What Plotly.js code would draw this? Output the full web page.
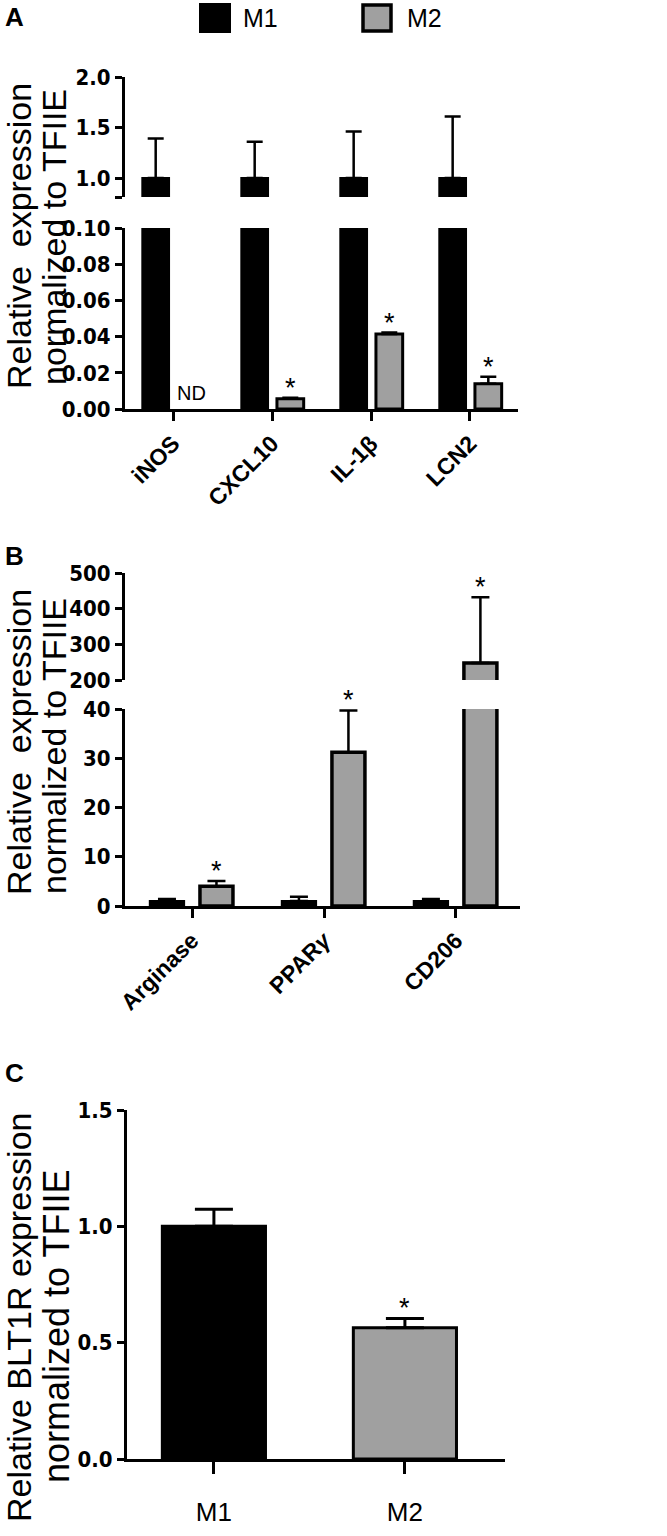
<!DOCTYPE html>
<html>
<head>
<meta charset="utf-8">
<script src="https://cdn.plot.ly/plotly-3.0.1.min.js"></script>
<style>html,body{margin:0;padding:0;background:#fff;}#chart{width:667px;height:1536px;}</style>
</head>
<body>
<div id="chart"></div>
<script>
// ---------- Data ----------
// Panel A: M1 markers
const catsA = ['iNOS', 'CXCL10', 'IL-1β', 'LCN2'];
const m1A = [1.0, 1.0, 1.0, 1.0];
const m1AErr = [0.39, 0.36, 0.46, 0.61];
const m2A = [null, 0.0056, 0.0415, 0.0140];
const m2AErr = [0, 0.0006, 0.0007, 0.0038];
const sigA = [false, true, true, true];
const ndA = [true, false, false, false];

// Panel B: M2 markers
const catsB = ['Arginase', 'PPAR<i>γ</i>', 'CD206'];
const m1B = [1.0, 1.0, 1.0];
const m1BErr = [0.4, 0.9, 0.4];
const m2B = [4.0, 31.2, 248];
const m2BErr = [1.1, 8.5, 184];
const sigB = [true, true, true];

// Panel C: BLT1R
const catsC = ['M1', 'M2'];
const valC = [1.0, 0.564];
const errC = [0.073, 0.040];
const sigC = [false, true];

const seriesNames = ['M1', 'M2'];
const colM1 = '#000000';
const colM2 = '#a0a0a0';

// ---------- Layout helpers ----------
const W = 667, H = 1536;
const px = v => v / W;
const py = v => 1 - v / H;
const tickFont = () => ({family: 'Liberation Sans Narrow, Arial Narrow, DejaVu Sans Condensed, sans-serif', size: 22, color: '#000', weight: 'bold'});
const xTickFont = () => ({family: 'Liberation Sans, Arial, sans-serif', size: 23, color: '#000', weight: 'bold'});

function yAx(domTop, domBot, range, tickvals, ticktext, anchor) {
  return {
    domain: [py(domBot), py(domTop)], range: range, anchor: anchor,
    showline: true, linecolor: '#000', linewidth: 3,
    ticks: 'outside', ticklen: 7, tickwidth: 3, tickcolor: '#000',
    tickvals: tickvals, ticktext: ticktext, tickfont: tickFont(),
    ticklabelstandoff: 0,
    showgrid: false, zeroline: false, fixedrange: true
  };
}
function xAx(domL, domR, range, anchor, angle, font) {
  return {
    domain: [px(domL), px(domR)], range: range, anchor: anchor, type: 'category',
    showline: true, linecolor: '#000', linewidth: 3,
    ticks: 'outside', ticklen: 9, tickwidth: 3, tickcolor: '#000',
    tickangle: angle, tickfont: font, showgrid: false, zeroline: false, fixedrange: true
  };
}

const traces = [];
function addBars(cats, vals, errs, name, color, offset, width, xa, ya, capw, lw) {
  traces.push({
    type: 'bar', x: cats, y: vals, name: name, xaxis: xa, yaxis: ya,
    offset: offset, width: width,
    marker: {color: color, line: {color: '#000', width: lw}},
    error_y: {type: 'data', symmetric: false, array: errs, arrayminus: errs.map(() => 0),
              color: '#000', thickness: 2.5, width: capw},
    showlegend: false, hoverinfo: 'skip'
  });
}

// Panel A (lower + upper break segments)
['y', 'y2'].forEach(ya => {
  addBars(catsA, m1A, m1AErr, seriesNames[0], colM1, -0.31, 0.27, 'x', ya, 8, 2);
  addBars(catsA, m2A, m2AErr, seriesNames[1], colM2, 0.05, 0.27, 'x', ya, 8, 3);
});
// Panel B
['y3', 'y4'].forEach(ya => {
  addBars(catsB, m1B, m1BErr, seriesNames[0], colM1, -0.32, 0.26, 'x2', ya, 9, 2);
  addBars(catsB, m2B, m2BErr, seriesNames[1], colM2, 0.06, 0.25, 'x2', ya, 9, 3.5);
});
// Panel C
traces.push({
  type: 'bar', x: catsC, y: valC, xaxis: 'x3', yaxis: 'y5', width: 0.54,
  marker: {color: [colM1, colM2], line: {color: '#000', width: 3}},
  error_y: {type: 'data', symmetric: false, array: errC, arrayminus: errC.map(() => 0),
            color: '#000', thickness: 3, width: 19},
  showlegend: false, hoverinfo: 'skip'
});

// ---------- Annotations ----------
const ann = [];
const starFont = {family: 'Liberation Sans, Arial, sans-serif', size: 27, color: '#000'};
// A stars / ND
catsA.forEach((c, i) => {
  const xc = i + 0.05 + 0.135;
  if (sigA[i]) ann.push({xref: 'x', yref: 'y', x: xc, y: m2A[i] + m2AErr[i], text: '*', showarrow: false,
                          yanchor: 'middle', yshift: 10, font: starFont});
  if (ndA[i]) ann.push({xref: 'x', yref: 'y', x: xc, y: 0, text: 'ND', showarrow: false,
                         yanchor: 'bottom', yshift: 3, font: {family: 'Liberation Sans, Arial, sans-serif', size: 20, color: '#000'}});
});
// B stars
catsB.forEach((c, i) => {
  const xc = i + 0.06 + 0.125;
  const top = m2B[i] + m2BErr[i];
  if (sigB[i]) ann.push({xref: 'x2', yref: top > 40 ? 'y4' : 'y3', x: xc, y: top, text: '*', showarrow: false,
                          yanchor: 'middle', yshift: 10, font: starFont});
});
// C stars
catsC.forEach((c, i) => {
  if (sigC[i]) ann.push({xref: 'x3', yref: 'y5', x: i, y: valC[i] + errC[i], text: '*', showarrow: false,
                          yanchor: 'middle', yshift: 10, font: starFont});
});

// Panel letters
const letterFont = {family: 'Liberation Sans, Arial, sans-serif', size: 26, color: '#000', weight: 'bold'};
[['A', 17], ['B', 556], ['C', 1073]].forEach(([t, yy]) => {
  ann.push({xref: 'paper', yref: 'paper', x: px(3), y: py(yy), text: t, showarrow: false,
            xanchor: 'left', yanchor: 'middle', font: letterFont});
});

// Y-axis titles (rotated)
function yTitle(text, xc, yc, size) {
  ann.push({xref: 'paper', yref: 'paper', x: px(xc), y: py(yc), text: text, textangle: -90, showarrow: false,
            xanchor: 'center', yanchor: 'middle',
            font: {family: 'Liberation Sans, Arial, sans-serif', size: size, color: '#000'}});
}
yTitle('Relative\u00A0 expression', 19, 236, 34);
yTitle('normalized to TFIIE', 54, 237, 34);
yTitle('Relative\u00A0 expression', 19, 742, 34);
yTitle('normalized to TFIIE', 54, 746, 34);
yTitle('Relative BLT1R expression', 19, 1318, 34);
yTitle('normalized to TFIIE', 56, 1327, 36);

// Legend (drawn)
const legFont = {family: 'Liberation Sans, Arial, sans-serif', size: 25, color: '#000'};
ann.push({xref: 'paper', yref: 'paper', x: px(241), y: py(18), text: seriesNames[0], showarrow: false, xanchor: 'left', yanchor: 'middle', font: legFont});
ann.push({xref: 'paper', yref: 'paper', x: px(405), y: py(18), text: seriesNames[1], showarrow: false, xanchor: 'left', yanchor: 'middle', font: legFont});
const shapes = [
  {type: 'rect', xref: 'paper', yref: 'paper', x0: px(200), x1: px(230), y0: py(32), y1: py(4),
   fillcolor: colM1, line: {color: '#000', width: 2}},
  {type: 'rect', xref: 'paper', yref: 'paper', x0: px(363), x1: px(391), y0: py(31), y1: py(5),
   fillcolor: colM2, line: {color: '#000', width: 3.5}}
];

const layout = {
  width: W, height: H, margin: {l: 0, r: 0, t: 0, b: 0},
  paper_bgcolor: '#fff', plot_bgcolor: 'rgba(0,0,0,0)', showlegend: false,
  xaxis: xAx(125, 518, [-0.485, 3.485], 'y', -45, xTickFont()),
  yaxis: yAx(228, 409, [0, 0.1], [0, 0.02, 0.04, 0.06, 0.08, 0.10], ['0.00', '0.02', '0.04', '0.06', '0.08', '0.10'], 'x'),
  yaxis2: yAx(77, 197, [0.812, 2.0], [0.812, 1.0, 1.5, 2.0], ['', '1.0', '1.5', '2.0'], 'x'),
  xaxis2: xAx(125, 520, [-0.508, 2.485], 'y3', -45, xTickFont()),
  yaxis3: yAx(709, 906, [0, 40], [0, 10, 20, 30, 40], ['0', '10', '20', '30', '40'], 'x2'),
  yaxis4: yAx(573, 680, [200, 500], [200, 300, 400, 500], ['200', '300', '400', '500'], 'x2'),
  xaxis3: xAx(127, 505, [-0.455, 1.524], 'y5', 0, {family: 'Liberation Sans, Arial, sans-serif', size: 26, color: '#000'}),
  yaxis5: yAx(1110, 1459, [0, 1.5], [0, 0.5, 1.0, 1.5], ['0.0', '0.5', '1.0', '1.5'], 'x3'),
  annotations: ann, shapes: shapes
};
layout.xaxis3.ticklen = 12;
layout.xaxis3.ticklabelstandoff = 16;

Plotly.newPlot('chart', traces, layout, {staticPlot: true, displayModeBar: false});
</script>
</body>
</html>
